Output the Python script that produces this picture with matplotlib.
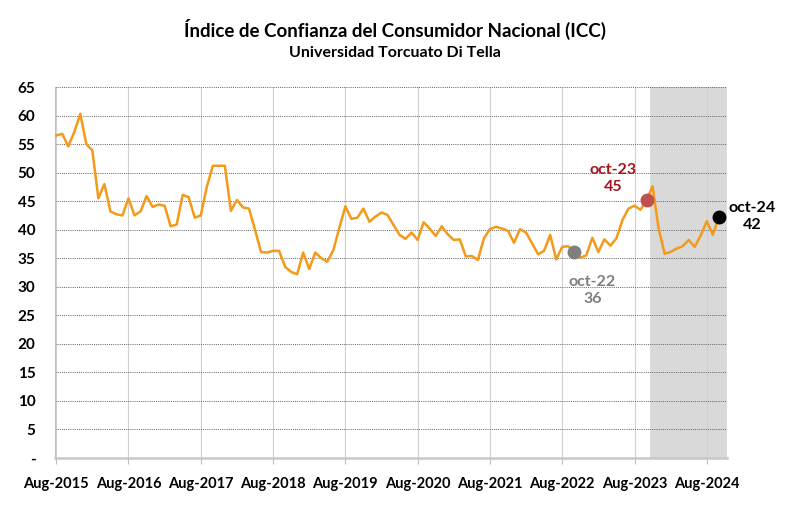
import matplotlib
matplotlib.use("Agg")
from matplotlib import pyplot as plt

# Monthly ICC values, Aug-2015 .. Oct-2024.
icc = [
    56.5, 56.8, 54.6, 57.1, 60.3, 55.0, 53.9, 45.5, 48.0, 43.2, 42.7, 42.5,  # Aug-15 .. Jul-16
    45.5, 42.5, 43.2, 45.9, 44.0, 44.4, 44.2, 40.6, 40.9, 46.1, 45.7, 42.1,  # Aug-16 .. Jul-17
    42.5, 47.5, 51.2, 51.2, 51.2, 43.3, 45.2, 43.9, 43.7, 40.0, 36.1, 36.0,  # Aug-17 .. Jul-18
    36.3, 36.3, 33.5, 32.6, 32.2, 36.0, 33.1, 36.0, 35.0, 34.4, 36.4, 40.3,  # Aug-18 .. Jul-19
    44.1, 41.9, 42.1, 43.7, 41.4, 42.3, 43.0, 42.6, 40.8, 39.1, 38.4, 39.5,  # Aug-19 .. Jul-20
    38.2, 41.3, 40.2, 38.9, 40.6, 39.2, 38.2, 38.3, 35.3, 35.4, 34.7, 38.5,  # Aug-20 .. Jul-21
    40.1, 40.5, 40.2, 39.8, 37.7, 40.1, 39.5, 37.6, 35.7, 36.3, 39.1, 34.8,  # Aug-21 .. Jul-22
    37.0, 37.1, 36.1, 35.1, 35.5, 38.6, 36.1, 38.3, 37.2, 38.5, 41.7, 43.7,  # Aug-22 .. Jul-23
    44.2, 43.5, 45.2, 47.6, 40.2, 35.8, 36.1, 36.7, 37.1, 38.2, 37.0, 39.0,  # Aug-23 .. Jul-24
    41.5, 39.1, 42.2,                                                        # Aug-24 .. Oct-24
]
months = list(range(len(icc)))

year_labels = ["Aug-2015", "Aug-2016", "Aug-2017", "Aug-2018", "Aug-2019",
               "Aug-2020", "Aug-2021", "Aug-2022", "Aug-2023", "Aug-2024"]
year_ticks = [12 * i for i in range(len(year_labels))]

y_ticks = list(range(0, 70, 5))
y_labels = ["-"] + [str(v) for v in y_ticks[1:]]

# highlighted points: (month index, label, value text, colour)
highlights = [
    (86, "oct-22", "36", "#7f7f7f"),
    (98, "oct-23", "45", "#c0504d"),
    (110, "oct-24", "42", "black"),
]
shade_start = 98.5  # new government period

plt.rcParams["font.family"] = ["Lato", "DejaVu Sans"]
plt.rcParams["font.weight"] = "bold"

fig = plt.figure(figsize=(7.9, 5.13), dpi=100)
ax = fig.add_axes([0.0696, 0.1072, 0.851, 0.7232])

x_max = 111.4
ax.axvspan(shade_start, x_max, color="#d9d9d9", zorder=0, lw=0)

ax.plot(months, icc, color="#f39a1a", lw=1.8, zorder=3)

for idx, name, val, col in highlights:
    ax.plot(idx, icc[idx], "o", color=col, ms=9, zorder=4)

ax.text(89.0, 29.4, "oct-22\n36", color="#7f7f7f", fontsize=11.5,
        fontweight="bold", ha="center", va="center", linespacing=1.3)
ax.text(92.5, 49.0, "oct-23\n45", color="#a3141e", fontsize=11.5,
        fontweight="bold", ha="center", va="center", linespacing=1.3)
ax.text(115.6, 42.3, "oct-24\n42", color="black", fontsize=11.5,
        fontweight="bold", ha="center", va="center", linespacing=1.3,
        clip_on=False)

ax.set_xlim(-0.2, x_max)
ax.set_ylim(0, 65)

ax.set_yticks(y_ticks)
ax.set_yticklabels(y_labels, fontsize=11, fontweight="bold")
ax.set_xticks(year_ticks)
ax.set_xticklabels(year_labels, fontsize=10.5, fontweight="bold")

ax.grid(axis="y", color="#606060", linestyle=(0, (1, 1.2)), lw=0.7)
ax.grid(axis="x", color="#d0d0d0", linestyle="-", lw=0.8)
ax.set_axisbelow(True)

ax.tick_params(axis="y", length=0, pad=14)
ax.tick_params(axis="x", length=4, color="#bfbfbf", pad=10)

for side in ["top", "right"]:
    ax.spines[side].set_visible(False)
ax.spines["left"].set_color("#bfbfbf")
ax.spines["bottom"].set_color("#c8c8c8")
ax.spines["bottom"].set_linewidth(1.8)

fig.text(0.5, 0.942, "Índice de Confianza del Consumidor Nacional (ICC)",
         ha="center", va="center", fontsize=13.5, fontweight="bold")
fig.text(0.5, 0.897, "Universidad Torcuato Di Tella",
         ha="center", va="center", fontsize=11.5, fontweight="bold")

fig.savefig("out.png", dpi=100)
